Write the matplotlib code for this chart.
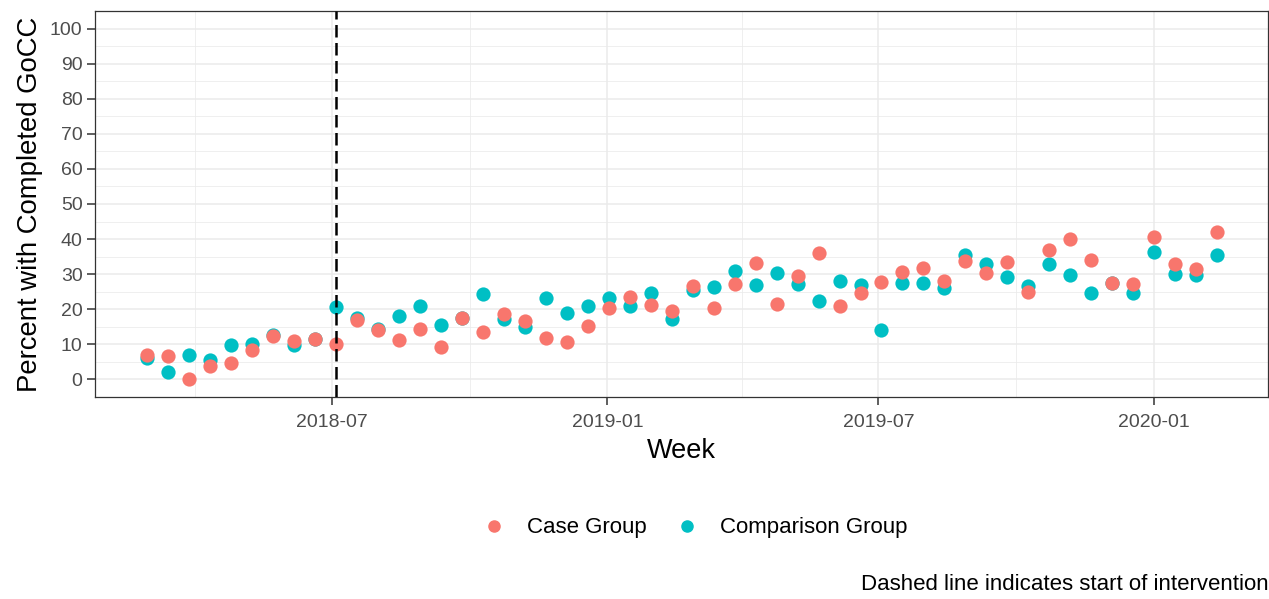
import pandas as pd
import matplotlib
matplotlib.use('Agg')
import matplotlib.pyplot as plt
import matplotlib.dates as mdates
from matplotlib.lines import Line2D

plt.rcParams['font.family'] = ['Liberation Sans', 'DejaVu Sans']

# Biweekly reporting weeks
weeks = ['2018-02-28', '2018-03-14', '2018-03-28', '2018-04-11', '2018-04-25',
         '2018-05-09', '2018-05-23', '2018-06-06', '2018-06-20', '2018-07-04',
         '2018-07-18', '2018-08-01', '2018-08-15', '2018-08-29', '2018-09-12',
         '2018-09-26', '2018-10-10', '2018-10-24', '2018-11-07', '2018-11-21',
         '2018-12-05', '2018-12-19', '2019-01-02', '2019-01-16', '2019-01-30',
         '2019-02-13', '2019-02-27', '2019-03-13', '2019-03-27', '2019-04-10',
         '2019-04-24', '2019-05-08', '2019-05-22', '2019-06-05', '2019-06-19',
         '2019-07-03', '2019-07-17', '2019-07-31', '2019-08-14', '2019-08-28',
         '2019-09-11', '2019-09-25', '2019-10-09', '2019-10-23', '2019-11-06',
         '2019-11-20', '2019-12-04', '2019-12-18', '2020-01-01', '2020-01-15',
         '2020-01-29', '2020-02-12']

case_pct = [7.1, 6.6, 0.0, 3.8, 4.7, 8.5, 12.3, 10.9, 11.4, 10.2,
            16.9, 14.0, 11.2, 14.4, 9.2, 17.6, 13.6, 18.7, 16.7, 11.8,
            10.6, 15.2, 20.3, 23.5, 21.3, 19.6, 26.5, 20.5, 27.1, 33.3,
            21.4, 29.4, 36.1, 21.0, 24.5, 27.9, 30.7, 31.9, 28.1, 33.8,
            30.4, 33.4, 24.9, 36.9, 40.0, 33.9, 27.5, 27.3, 40.6, 32.9,
            31.6, 42.0]

comparison_pct = [6.2, 2.1, 6.9, 5.5, 9.7, 10.2, 12.8, 9.8, 11.4, 20.7,
                  17.4, 14.4, 18.2, 20.8, 15.5, 17.6, 24.3, 17.1, 15.0, 23.3,
                  19.0, 20.8, 23.3, 20.8, 24.6, 17.3, 25.4, 26.4, 30.9, 26.9,
                  30.2, 27.1, 22.5, 28.1, 26.9, 14.2, 27.5, 27.6, 26.0, 35.5,
                  32.8, 29.3, 26.5, 32.9, 29.9, 24.5, 27.5, 24.5, 36.3, 30.1,
                  29.8, 35.5]

intervention_start = '2018-07-04'

dates = pd.to_datetime(weeks)
case_color = '#F8766D'
comp_color = '#00BFC4'

fig = plt.figure(figsize=(12.69, 5.99), dpi=100)
ax = fig.add_axes([95 / 1269, 1 - 397 / 599, (1268 - 95) / 1269, (397 - 11) / 599])

ax.scatter(dates, comparison_pct, s=105, color=comp_color, linewidths=0, zorder=3)
ax.scatter(dates, case_pct, s=105, color=case_color, linewidths=0, zorder=4)

ax.axvline(pd.Timestamp(intervention_start), color='black', lw=1.8,
           linestyle=(0, (5, 2.2)), zorder=5)

# axes, ticks and grid (theme_bw look)
ax.set_xlim(pd.Timestamp('2018-01-24'), pd.Timestamp('2020-03-17'))
ax.set_ylim(-5, 105)
ax.set_yticks(range(0, 101, 10))
ax.set_yticks(range(5, 100, 10), minor=True)
ax.xaxis.set_major_locator(mdates.MonthLocator(bymonth=[1, 7]))
ax.xaxis.set_minor_locator(mdates.MonthLocator(bymonth=[4, 10]))
ax.xaxis.set_major_formatter(mdates.DateFormatter('%Y-%m'))

ax.grid(which='major', color='#EBEBEB', lw=1.1, zorder=0)
ax.grid(which='minor', color='#EBEBEB', lw=0.55, zorder=0)
ax.set_axisbelow(True)
for sp in ax.spines.values():
    sp.set_color('#333333')
    sp.set_linewidth(0.9)

ax.tick_params(which='major', length=6, width=1.1, color='#333333',
               labelsize=14, labelcolor='#4D4D4D', pad=3)
ax.tick_params(axis='x', which='major', pad=6)
ax.tick_params(which='minor', length=0)

ax.set_xlabel('Week', fontsize=19.5, labelpad=5)
ax.set_ylabel('Percent with Completed GoCC', fontsize=19.8, labelpad=5)

# legend at the bottom
handles = [Line2D([], [], marker='o', ls='', color=case_color, markersize=8),
           Line2D([], [], marker='o', ls='', color=comp_color, markersize=8)]
fig.legend(handles, ['Case Group', 'Comparison Group'], loc='center',
           bbox_to_anchor=(0.547, 1 - 528 / 599), ncol=2, frameon=False,
           fontsize=16, handletextpad=0.9, columnspacing=1.2, handlelength=1.2)

fig.text(1269 / 1269, 1 - 585 / 599, 'Dashed line indicates start of intervention',
         ha='right', va='center', fontsize=16)

fig.savefig('out.png', dpi=100)
